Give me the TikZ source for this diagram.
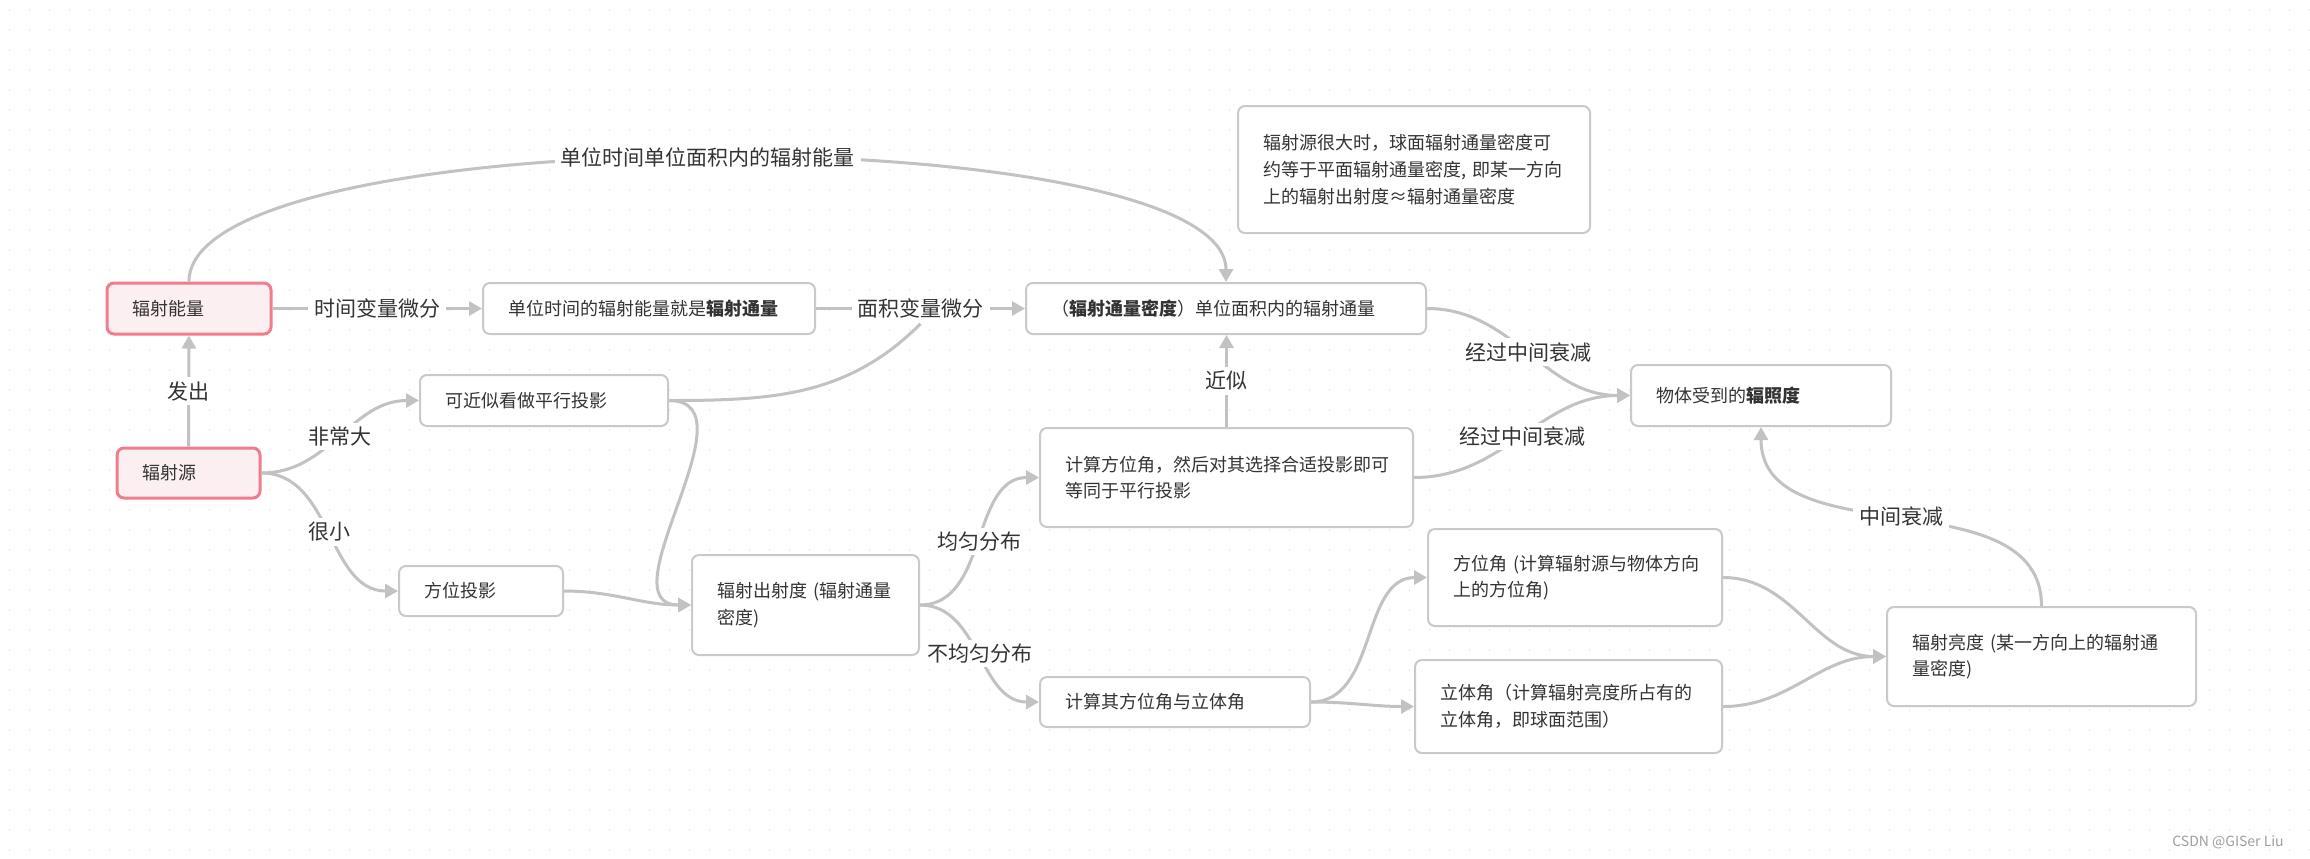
\documentclass[tikz,border=0pt]{standalone}
\usepackage{fontspec}
\setmainfont{Noto Sans CJK SC}
\usetikzlibrary{arrows.meta}

\definecolor{linkgray}{HTML}{C2C2C2}
\definecolor{boxgray}{HTML}{C9C9C9}
\definecolor{rootfill}{HTML}{FCEFF1}
\definecolor{rootline}{HTML}{F07D8B}
\definecolor{inkgray}{HTML}{333333}
\definecolor{dotgray}{HTML}{E6E6E6}

\begin{document}
\begin{tikzpicture}[x=0.5pt, y=-0.5pt,
  box/.style={draw=boxgray, line width=1pt, rounded corners=3.5pt, fill=white, text=inkgray, align=left, inner xsep=12.5pt, inner ysep=0pt, font=\fontsize{9}{13.3}\selectfont},
  rootbox/.style={box, draw=rootline, fill=rootfill, line width=1.5pt},
  link/.style={draw=linkgray, line width=1.5pt, -{Triangle[width=7pt,length=6.5pt]}},
  plain/.style={draw=linkgray, line width=1.5pt},
  lbl/.style={fill=white, text=inkgray, inner xsep=3pt, inner ysep=2pt, font=\fontsize{10.5}{12}\selectfont}]
% background
\fill[white] (0,0) rectangle (2310,858);
\useasboundingbox (0,0) rectangle (2310,858);
\foreach \r in {0,...,42}
  \draw[dotgray, line width=0.7pt, dash pattern=on 0.7pt off 9.3pt] (9,10+20*\r) -- (2310,10+20*\r);
% roots
\node[rootbox, text width=57pt, minimum height=25.5pt] (nEnergy) at (189,308.5) {辐射能量};
\node[rootbox, text width=46.5pt, minimum height=25pt] (nSource) at (188.5,473) {辐射源};
% flux chain
\node[box, text width=141pt, minimum height=25.5pt] (nFlux) at (649,308.5) {单位时间的辐射能量就是{\bfseries 辐射通量}};
\node[box, text width=175pt, minimum height=25.5pt] (nDensity) at (1226,308.5) {（{\bfseries 辐射通量密度}）单位面积内的辐射通量};
\node[box, text width=151pt, minimum height=63.5pt] (nNote) at (1414,169.5) {辐射源很大时，球面辐射通量密度可\\约等于平面辐射通量密度,~即某一方向\\上的辐射出射度≈辐射通量密度\\[3pt]};
% projections
\node[box, text width=99pt, minimum height=25.5pt] (nParallel) at (544,400.5) {可近似看做平行投影};
\node[box, text width=57pt, minimum height=25pt] (nAzProj) at (481,591) {方位投影};
\node[box, text width=88.5pt, minimum height=50pt] (nExitance) at (805.5,605) {辐射出射度~(辐射通量\\密度)};
\node[box, text width=161.5pt, minimum height=49.5pt] (nCalcAz) at (1226.5,477.5) {计算方位角，然后对其选择合适投影即可\\等同于平行投影};
\node[box, text width=110pt, minimum height=25pt] (nCalcBoth) at (1175,702) {计算其方位角与立体角};
% angles and radiance
\node[box, text width=122pt, minimum height=48.5pt] (nAzimuth) at (1575,577.5) {方位角~(计算辐射源与物体方向\\上的方位角)};
\node[box, text width=128.5pt, minimum height=46.5pt] (nSolid) at (1568.5,706.5) {立体角（计算辐射亮度所占有的\\立体角，即球面范围）};
\node[box, text width=129.5pt, minimum height=49.5pt] (nRadiance) at (2041.5,656.5) {辐射亮度~(某一方向上的辐射通\\量密度)};
\node[box, text width=105pt, minimum height=30.5pt] (nIrr) at (1761,395.5) {物体受到的{\bfseries 辐照度}};
% main line
\draw[link] (nSource) -- node[lbl] {发出} (nEnergy);
\draw[link] (nEnergy) -- node[lbl] {时间变量微分} (nFlux);
\draw[link] (nFlux) -- node[lbl] (lArea) {面积变量微分} (nDensity);
\draw[link] (nEnergy.north) to[out=90, in=90, looseness=0.41] node[lbl] {单位时间单位面积内的辐射能量} (nDensity.north);
% source branches
\draw[link] (nSource.east) to[out=0, in=180] node[lbl] {非常大} (nParallel.west);
\draw[link] (nSource.east) to[out=0, in=180] node[lbl] {很小} (nAzProj.west);
\draw[plain] (nParallel.east) to[out=0, in=-135] (lArea.south);
\draw[link] (nParallel.east) to[out=0, in=180, looseness=1.1] (nExitance.west);
\draw[link] (nAzProj.east) to[out=0, in=180] (nExitance.west);
% exitance branches
\draw[link] (nExitance.east) to[out=0, in=180] node[lbl] {均匀分布} (nCalcAz.west);
\draw[link] (nExitance.east) to[out=0, in=180] node[lbl] {不均匀分布} (nCalcBoth.west);
\draw[link] (nCalcAz.north) -- node[lbl] {近似} (nCalcAz.north |- nDensity.south);
\draw[link] (nCalcBoth.east) to[out=0, in=180] (nAzimuth.west);
\draw[link] (nCalcBoth.east) to[out=0, in=180] (nSolid.west);
\draw[link] (nAzimuth.east) to[out=0, in=180] (nRadiance.west);
\draw[link] (nSolid.east) to[out=0, in=180] (nRadiance.west);
% irradiance
\draw[link] (nDensity.east) to[out=0, in=180] node[lbl] {经过中间衰减} (nIrr.west);
\draw[link] (nCalcAz.east) to[out=0, in=180] node[lbl] {经过中间衰减} (nIrr.west);
\draw[link] (nRadiance.north) to[out=90, in=-90] node[lbl] {中间衰减} (nIrr.south);
% watermark
\node[text=gray!75, font=\fontsize{7}{8}\selectfont] (wMark) at (2228,842) {CSDN @GISer Liu};
\end{tikzpicture}
\end{document}
